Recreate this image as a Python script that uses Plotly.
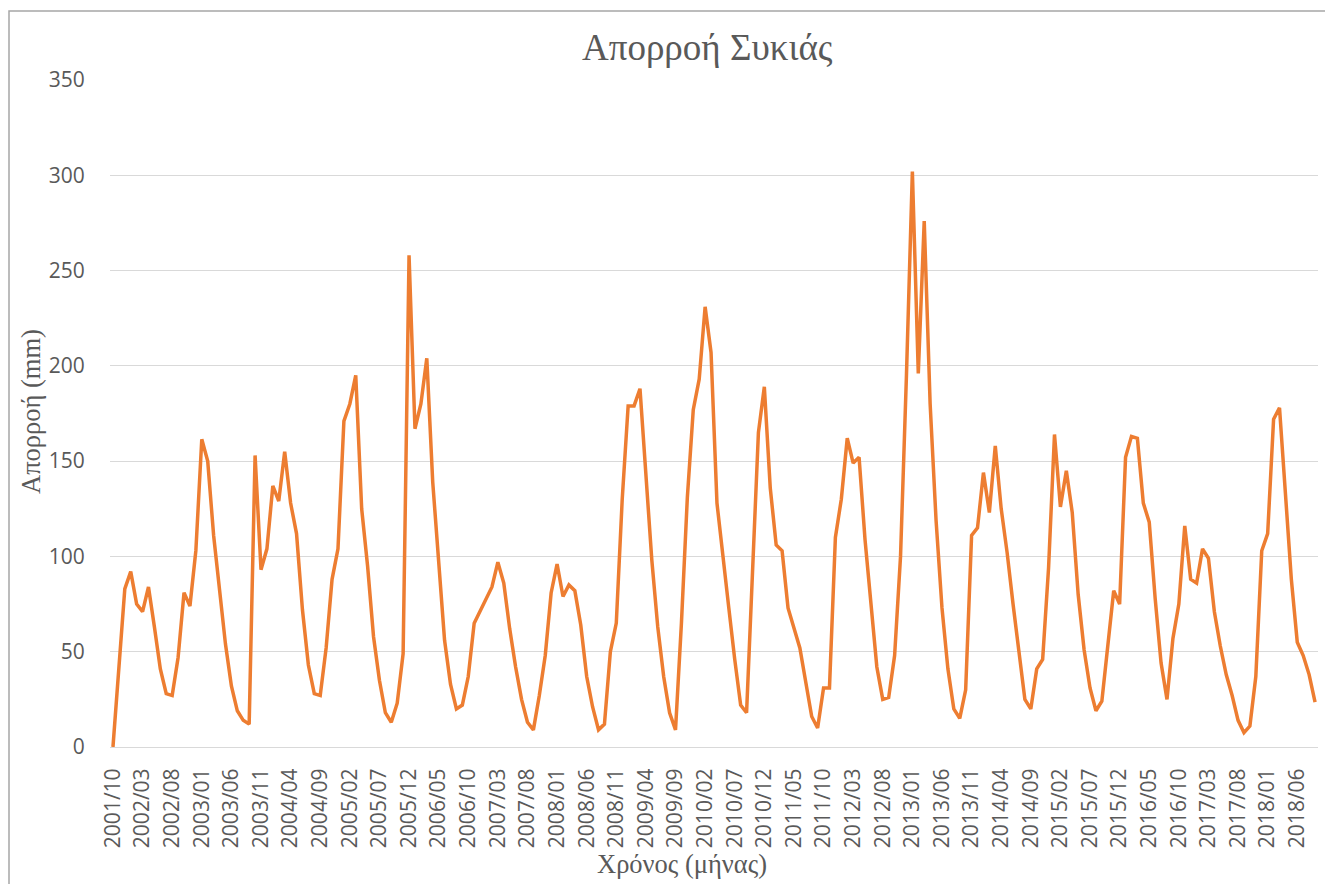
import plotly.graph_objects as go

# Monthly runoff (mm), 2001/10 .. 2018/09
runoff = [
    0, 40, 83, 92, 75, 71, 84, 63, 41, 28, 27, 47,
    81, 74, 103, 161.5, 150, 111, 82, 54, 32, 19, 14, 12,
    153, 93, 104, 137, 129, 155, 128, 112, 72, 43, 28, 27,
    52, 88, 104, 171, 180, 195, 125, 95, 58, 35, 18, 13,
    23, 49, 258, 167, 180, 204, 139, 100, 56, 33, 20, 22,
    37, 65, 71, 78, 84, 97, 86, 62, 42, 25, 13, 9,
    27, 48, 81, 96, 79, 85, 82, 64, 37, 21, 9, 12,
    50, 65, 130, 179, 179, 188, 141, 98, 63, 37, 18, 9,
    65, 131, 177, 193, 231, 207, 128, 102, 73, 46, 22, 18,
    90, 165, 189, 136, 106, 103, 73, 63, 52, 34, 16, 10,
    31, 31, 110, 130, 162, 149, 152, 109, 73, 42, 25, 26,
    48, 100, 195, 302, 196, 276, 180, 119, 73, 41, 20, 15,
    30, 111, 115, 144, 123, 158, 125, 102, 75, 48, 25, 20,
    41, 46, 94, 164, 126, 145, 123, 80, 51, 31, 19, 24,
    55, 82, 75, 152, 163, 162, 128, 118, 78, 44, 25, 57,
    75, 116, 88, 86, 104, 99, 71, 53, 38, 27, 14, 7.5,
    11, 37, 103, 112, 172, 178, 133, 88, 55, 48, 38, 23.5,
]

start_year, start_month = 2001, 10
months = []
for i in range(len(runoff)):
    m = start_month - 1 + i
    months.append(f"{start_year + m // 12}/{m % 12 + 1:02d}")

tick_labels = [
    "2001/10", "2002/03", "2002/08", "2003/01", "2003/06", "2003/11", "2004/04",
    "2004/09", "2005/02", "2005/07", "2005/12", "2006/05", "2006/10", "2007/03",
    "2007/08", "2008/01", "2008/06", "2008/11", "2009/04", "2009/09", "2010/02",
    "2010/07", "2010/12", "2011/05", "2011/10", "2012/03", "2012/08", "2013/01",
    "2013/06", "2013/11", "2014/04", "2014/09", "2015/02", "2015/07", "2015/12",
    "2016/05", "2016/10", "2017/03", "2017/08", "2018/01", "2018/06",
]
y_ticks = [0, 50, 100, 150, 200, 250, 300, 350]

title_text = "Απορροή Συκιάς"
x_title = "Χρόνος (μήνας)"
y_title = "Απορροή (mm)"

W, H = 1325, 884
L, R, T, B = 110, 7, 80, 137

TXT = "#595959"
SERIF = "Liberation Serif, Times New Roman, serif"
SANS = "Open Sans, Noto Sans, sans-serif"

fig = go.Figure()
fig.add_trace(go.Scatter(
    x=months, y=runoff, mode="lines",
    line=dict(color="#ED7D31", width=3.5),
    hoverinfo="x+y", showlegend=False,
))

pw = W - L - R
ph = H - T - B

def px_to_paper_x(px):
    return (px - L) / pw

def py_to_paper_y(py):
    return (H - B - py) / ph

fig.update_layout(
    width=W, height=H,
    margin=dict(l=L, r=R, t=T, b=B, pad=0),
    paper_bgcolor="white", plot_bgcolor="white",
    font=dict(family=SANS, color=TXT, size=21),
    xaxis=dict(
        type="category",
        range=[-0.5, len(runoff) - 0.5],
        tickmode="array", tickvals=tick_labels, ticktext=tick_labels,
        tickangle=-90,
        ticks="outside", ticklen=12, tickcolor="rgba(0,0,0,0)",
        showgrid=False, showline=True, linecolor="#D9D9D9", linewidth=1,
        tickfont=dict(family=SANS, size=21, color=TXT),
        zeroline=False,
    ),
    yaxis=dict(
        range=[0, 350],
        tickmode="array", tickvals=y_ticks,
        ticks="outside", ticklen=20, tickcolor="rgba(0,0,0,0)",
        showgrid=True, gridcolor="#D9D9D9", gridwidth=1,
        zeroline=False, showline=False,
        tickfont=dict(family=SANS, size=21, color=TXT),
    ),
    annotations=[
        dict(text=title_text, xref="paper", yref="paper",
             x=px_to_paper_x(707), y=py_to_paper_y(47),
             xanchor="center", yanchor="middle", showarrow=False,
             font=dict(family=SERIF, size=37, color=TXT)),
        dict(text=x_title, xref="paper", yref="paper",
             x=px_to_paper_x(682), y=py_to_paper_y(864),
             xanchor="center", yanchor="middle", showarrow=False,
             font=dict(family=SERIF, size=26.5, color=TXT)),
        dict(text=y_title, xref="paper", yref="paper",
             x=px_to_paper_x(31), y=py_to_paper_y(412),
             xanchor="center", yanchor="middle", showarrow=False, textangle=-90,
             font=dict(family=SERIF, size=26.5, color=TXT)),
    ],
    shapes=[
        dict(type="rect", xref="paper", yref="paper",
             x0=px_to_paper_x(9), x1=px_to_paper_x(1340),
             y0=py_to_paper_y(900), y1=py_to_paper_y(11),
             line=dict(color="#A6A6A6", width=1.5), fillcolor="rgba(0,0,0,0)",
             layer="below"),
    ],
)

fig.write_html(
    "out.html",
    config={"displayModeBar": False},
    post_script="document.body.style.margin='0';document.body.style.overflow='hidden';",
)
